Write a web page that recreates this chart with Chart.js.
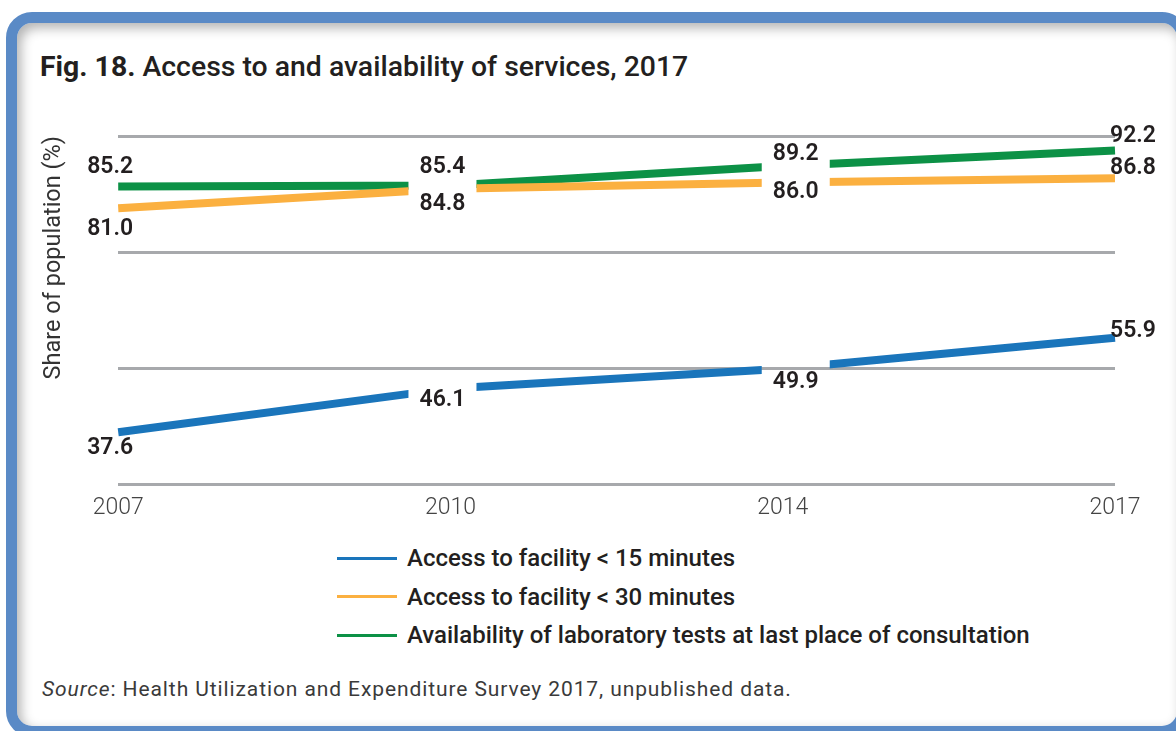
<!DOCTYPE html>
<html>
<head>
<meta charset="utf-8">
<script src="https://cdn.jsdelivr.net/npm/chart.js@4.4.1/dist/chart.umd.min.js"></script>
<style>
  html, body { margin: 0; padding: 0; background: #fff; }
  body { width: 1176px; height: 731px; position: relative; overflow: hidden; font-family: "Roboto", sans-serif; color: #231f20; }
  #frame {
    position: absolute; left: 6px; top: 12px; width: 1160px; height: 703px;
    border: 11px solid #5a8ac6; border-radius: 26px;
    box-shadow: inset 4px 5px 12px rgba(0,0,0,0.3);
  }
  #title { position: absolute; left: 40px; top: 50px; font-size: 28.4px; font-weight: 500; white-space: nowrap; }
  #title b { font-weight: 700; }
  #chartBox { position: absolute; left: 0; top: 100px; width: 1176px; height: 432px; }
  #legend { position: absolute; left: 337px; top: 539px; }
  .item { height: 38.5px; display: flex; align-items: center; font-size: 24px; font-weight: 500; }
  .swatch { width: 60px; height: 3px; margin-right: 10px; }
  #source { position: absolute; left: 42px; top: 677px; font-size: 21px; letter-spacing: 0.9px; color: #3a3a3a; white-space: nowrap; }
</style>
</head>
<body>
<div id="frame"></div>
<div id="title"><b>Fig. 18.</b> Access to and availability of services, 2017</div>
<div id="chartBox"><canvas id="myChart"></canvas></div>
<div id="legend"></div>
<div id="source"><i>Source</i>: Health Utilization and Expenditure Survey 2017, unpublished data.</div>
<script>
// chart data
const years = ["2007", "2010", "2014", "2017"];
const access15 = [37.6, 46.1, 49.9, 55.9];
const access30 = [81.0, 84.8, 86.0, 86.8];
const labTests = [85.2, 85.4, 89.2, 92.2];

// where the value labels sit, relative to the point
const labelDx = [-8, -8, 13, 18];
const labelDy = {
  access15: [16, 12, 13, -7],
  access30: [21, 16, 10, -10],
  labTests: [-19, -18, -12, -14],
};
const gapHalf = 34;

// cut the lines around the inner points so the labels fit in
const gapPlugin = {
  id: "gaps",
  beforeDatasetsDraw(chart) {
    const ctx = chart.ctx;
    const xs = chart.scales.x;
    ctx.save();
    ctx.beginPath();
    ctx.rect(0, 0, chart.width, chart.height);
    for (let i = 1; i < years.length - 1; i++) {
      const cx = xs.getPixelForValue(i) + labelDx[i];
      ctx.rect(cx - gapHalf, 0, gapHalf * 2, chart.height);
    }
    ctx.clip("evenodd");
  },
  afterDatasetsDraw(chart) {
    chart.ctx.restore();
    // value labels
    const ctx = chart.ctx;
    ctx.save();
    ctx.font = "600 23px Roboto";
    ctx.fillStyle = "#231f20";
    ctx.textAlign = "center";
    ctx.textBaseline = "middle";
    chart.data.datasets.forEach((ds, di) => {
      const meta = chart.getDatasetMeta(di);
      meta.data.forEach((pt, i) => {
        ctx.fillText(ds.data[i].toFixed(1), pt.x + labelDx[i], pt.y + labelDy[ds.key][i]);
      });
    });
    ctx.restore();
  },
};

var ctx = document.getElementById("myChart").getContext("2d");
var myChart = new Chart(ctx, {
  type: "line",
  data: {
    labels: years,
    datasets: [
      { key: "access15", label: "Access to facility < 15 minutes", data: access15, borderColor: "#1a75bb", backgroundColor: "#1a75bb" },
      { key: "access30", label: "Access to facility < 30 minutes", data: access30, borderColor: "#fbb040", backgroundColor: "#fbb040" },
      { key: "labTests", label: "Availability of laboratory tests at last place of consultation", data: labTests, borderColor: "#0c9146", backgroundColor: "#0c9146" },
    ],
  },
  options: {
    responsive: true,
    maintainAspectRatio: false,
    animation: false,
    layout: { padding: { left: 36, right: 61, top: 36, bottom: 0 } },
    elements: {
      line: { borderWidth: 8, tension: 0, fill: false, borderCapStyle: "butt" },
      point: { radius: 0, hoverRadius: 0 },
    },
    plugins: { legend: { display: false }, tooltip: { enabled: false } },
    scales: {
      x: {
        grid: { display: false, drawTicks: false },
        border: { display: false },
        ticks: { color: "#444", font: { family: "Roboto", size: 23, weight: 300 }, padding: 10, maxRotation: 0 },
      },
      y: {
        min: 27.5,
        max: 95,
        grid: { color: "#a7a9ac", lineWidth: 3, drawTicks: false },
        border: { display: false },
        ticks: { display: false, stepSize: 22.5 },
        title: {
          display: true,
          text: "Share of population (%)",
          align: "end",
          color: "#333",
          font: { family: "Roboto", size: 23.5, weight: 400 },
          padding: { top: 4, bottom: 50 },
        },
      },
    },
  },
  plugins: [gapPlugin],
});

// legend built from the chart datasets
const legend = document.getElementById("legend");
myChart.data.datasets.forEach((ds) => {
  const row = document.createElement("div");
  row.className = "item";
  const sw = document.createElement("span");
  sw.className = "swatch";
  sw.style.background = ds.borderColor;
  const txt = document.createElement("span");
  txt.textContent = ds.label;
  row.appendChild(sw);
  row.appendChild(txt);
  legend.appendChild(row);
});
</script>
</body>
</html>
